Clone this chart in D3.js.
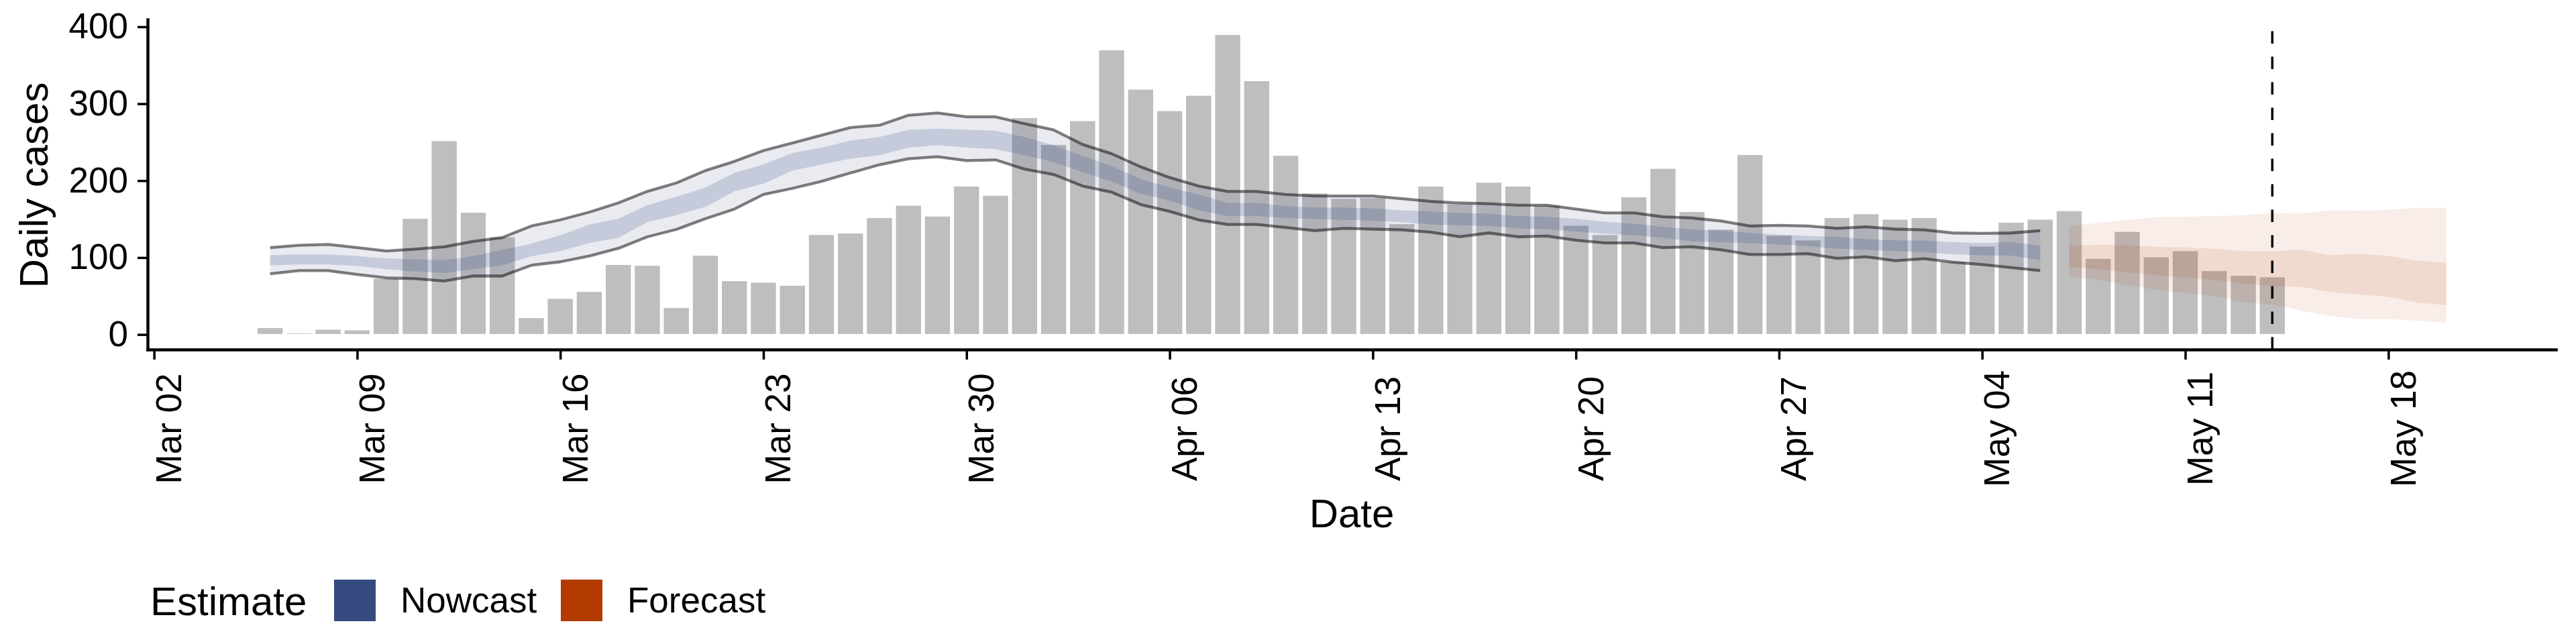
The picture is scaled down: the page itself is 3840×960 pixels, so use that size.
<!DOCTYPE html>
<html>
<head>
<meta charset="utf-8">
<script src="https://cdn.jsdelivr.net/npm/d3@7"></script>
<style>
  html, body { margin: 0; padding: 0; background: #fff; }
  svg text { font-family: "Liberation Sans", Arial, sans-serif; fill: #000; }
</style>
</head>
<body>
<svg id="chart" width="3840" height="960"></svg>
<script>
// reported daily cases, one per day from Mar 06 to May 14
var reportStart = "2020-03-06", reportEnd = "2020-05-15";
var confirm = [9, 2, 7, 6, 73, 151, 252, 159, 127, 22, 47, 56, 91, 90, 35, 103, 70, 68, 64, 130, 132, 152, 168, 154, 193, 181,
  282, 247, 278, 370, 319, 291, 311, 390, 330, 233, 184, 177, 178, 144, 193, 170, 198, 193, 168, 142, 130, 179, 216, 160, 137, 234, 129, 123, 152, 157,
  150, 152, 95, 115, 146, 150, 161, 99, 134, 101, 109, 83, 77, 75];

// nowcast, Mar 06 to May 06
var nowStart = "2020-03-06", nowEnd = "2020-05-07";
var nowUpper90 = [113, 116, 117, 113, 108.5, 111, 114, 121, 126, 141, 149, 159, 171, 186, 197, 213, 225, 239, 249, 259, 269, 272, 285, 288, 283, 283,
  274, 266, 247, 235, 218, 204, 193, 186, 186, 182, 180, 180, 180, 176.5, 173, 171, 170, 168, 168, 163, 158, 158, 153, 151.5, 147.5, 141, 142, 141, 138, 140,
  137, 136, 132, 131.5, 132, 135];
var nowLower90 = [79, 83, 83, 78, 73.6, 72.6, 69.5, 76, 76, 90, 94.5, 102, 112, 127, 136.6, 150.6, 163, 182, 190, 199, 210, 220.7, 228.5, 231, 226, 227,
  215, 208, 193, 185, 169, 160, 149, 143, 143, 139, 135, 138, 137, 136, 133, 127, 132, 127, 128, 122.5, 119, 119, 113, 114, 110, 104, 104, 105, 99, 101,
  96, 98.5, 94, 91, 87, 83];
var nowUpper50 = [103, 104, 104, 102, 99, 97.6, 96.7, 102, 110, 118, 129, 143, 150.6, 168, 179, 191, 210, 221, 236, 243, 252, 256.6, 266, 267.5, 266, 265,
  256.6, 246, 232, 219, 202, 191, 182, 171, 171, 167, 165, 165, 164, 161.5, 160, 158, 157, 154, 153, 150.6, 146.5, 144, 140, 136.6, 135, 132, 130, 128, 127, 124,
  122.5, 122, 120, 119, 120, 115.5];
var nowLower50 = [90, 91, 91, 89, 85, 82, 80, 85, 90, 101.6, 108.5, 119, 125.7, 146, 155, 166, 186, 196, 213, 221, 228.5, 233, 243, 246, 243, 241,
  233, 224, 211, 199, 183, 174, 161.5, 154, 154, 151.5, 150, 149, 148, 146, 143, 142, 141, 138, 137, 134, 131, 129, 125.7, 121, 120, 118.5, 117, 115, 111.6, 110,
  108.5, 107, 104, 103, 102.5, 97];

// forecast, May 07 to May 20
var foreStart = "2020-05-07", foreEnd = "2020-05-21";
var foreUpper90 = [141, 145, 149, 152.5, 153, 154, 155, 158, 157, 161.5, 161, 162, 164.6, 165];
var foreLower90 = [75, 71, 64, 58, 54, 50, 42, 39, 31, 24, 20, 20, 18, 15.6];
var foreUpper50 = [115.5, 116.5, 116, 114, 113, 111.6, 108.5, 108, 110, 103, 105, 102, 96, 93];
var foreLower50 = [88, 85, 81, 77, 74, 71, 66, 63, 62, 55, 52, 49, 41.5, 38];

var forecastDate = "2020-05-14";
var yTicks = [0, 100, 200, 300, 400];
var legendLabels = ["Nowcast", "Forecast"];
var legendColors = ["#354B80", "#B33A00"];

var day = 864e5;
var svg = d3.select("#chart");

function days(a, b) { return d3.utcDay.range(new Date(a), new Date(b)); }
var reported = days(reportStart, reportEnd).map(function(d, i) { return {date: d, confirm: confirm[i]}; });
var nowcast = days(nowStart, nowEnd).map(function(d, i) {
  return {date: d, u90: nowUpper90[i], l90: nowLower90[i], u50: nowUpper50[i], l50: nowLower50[i]};
});
var forecast = days(foreStart, foreEnd).map(function(d, i) {
  return {date: d, u90: foreUpper90[i], l90: foreLower90[i], u50: foreUpper50[i], l50: foreLower50[i]};
});

// x domain like ggplot: data range (bars are 0.9 day wide) plus 5% each side
var xmin = +reported[0].date - 0.45 * day;
var xmax = +forecast[forecast.length - 1].date;
var pad = (xmax - xmin) * 0.05;
var x = d3.scaleUtc().domain([new Date(xmin - pad), new Date(xmax + pad)]).range([220, 3810]);
var y = d3.scaleLinear().domain([-19.5, 409.5]).range([521, 29]);

// bars
svg.append("g").selectAll("rect").data(reported).enter().append("rect")
  .attr("x", function(d) { return x(new Date(+d.date - 0.45 * day)); })
  .attr("width", function(d) { return x(new Date(+d.date + 0.45 * day)) - x(new Date(+d.date - 0.45 * day)); })
  .attr("y", function(d) { return y(d.confirm); })
  .attr("height", function(d) { return y(0) - y(d.confirm); })
  .attr("fill", "#BEBEBE").attr("stroke", "#fff").attr("stroke-width", 1.5);

// ribbons
function band(lo, hi) {
  return d3.area().x(function(d) { return x(d.date); })
    .y0(function(d) { return y(d[lo]); }).y1(function(d) { return y(d[hi]); });
}
var ribbons = svg.append("g");
ribbons.append("path").datum(nowcast).attr("d", band("l90", "u90")).attr("fill", legendColors[0]).attr("fill-opacity", 0.11);
ribbons.append("path").datum(nowcast).attr("d", band("l50", "u50")).attr("fill", legendColors[0]).attr("fill-opacity", 0.2);
ribbons.append("path").datum(forecast).attr("d", band("l90", "u90")).attr("fill", legendColors[1]).attr("fill-opacity", 0.09);
ribbons.append("path").datum(forecast).attr("d", band("l50", "u50")).attr("fill", legendColors[1]).attr("fill-opacity", 0.11);

// 90% bounds of nowcast
["u90", "l90"].forEach(function(k) {
  svg.append("path").datum(nowcast)
    .attr("d", d3.line().x(function(d) { return x(d.date); }).y(function(d) { return y(d[k]); }))
    .attr("fill", "none").attr("stroke", "#000").attr("stroke-opacity", 0.5)
    .attr("stroke-width", 4.3).attr("stroke-linejoin", "round");
});

// forecast date
var fx = x(new Date(forecastDate));
svg.append("line").attr("x1", fx).attr("x2", fx).attr("y1", y.range()[0]).attr("y2", y.range()[1])
  .attr("stroke", "#000").attr("stroke-width", 3.5).attr("stroke-dasharray", "18.5,19.5");

// axes
var yAxis = svg.append("g").attr("transform", "translate(220,0)")
  .call(d3.axisLeft(y).tickValues(yTicks).tickSize(15).tickPadding(14).tickSizeOuter(0));
yAxis.selectAll("text").attr("font-size", 53).attr("font-family", "Liberation Sans, Arial, sans-serif");

var xTicks = d3.utcMonday.range(new Date("2020-03-02"), new Date("2020-05-19"));
var xAxis = svg.append("g").attr("transform", "translate(0,521)")
  .call(d3.axisBottom(x).tickValues(xTicks).tickFormat(d3.utcFormat("%b %d")).tickSize(15).tickSizeOuter(0));
xAxis.selectAll("text").attr("font-size", 53).attr("font-family", "Liberation Sans, Arial, sans-serif")
  .attr("y", null).attr("dy", null).attr("text-anchor", "middle")
  .attr("transform", "translate(40,118) rotate(-90)");

[yAxis, xAxis].forEach(function(a) {
  a.select(".domain").attr("stroke", "#000").attr("stroke-width", 4.5).attr("stroke-linecap", "square");
  a.selectAll(".tick line").attr("stroke", "#000").attr("stroke-width", 3.5);
});

// axis titles
svg.append("text").attr("x", 2015).attr("y", 786).attr("text-anchor", "middle")
  .attr("font-size", 60).text("Date");
svg.append("text").attr("transform", "translate(71,276) rotate(-90)").attr("text-anchor", "middle")
  .attr("font-size", 60).text("Daily cases");

// legend
var legend = svg.append("g");
legend.append("text").attr("x", 224).attr("y", 917).attr("font-size", 60).text("Estimate");
var keyX = [498, 836];
legendLabels.forEach(function(lab, i) {
  legend.append("rect").attr("x", keyX[i]).attr("y", 864).attr("width", 62).attr("height", 62).attr("fill", legendColors[i]);
  legend.append("text").attr("x", keyX[i] + 99).attr("y", 913).attr("font-size", 53).text(lab);
});
</script>
</body>
</html>
